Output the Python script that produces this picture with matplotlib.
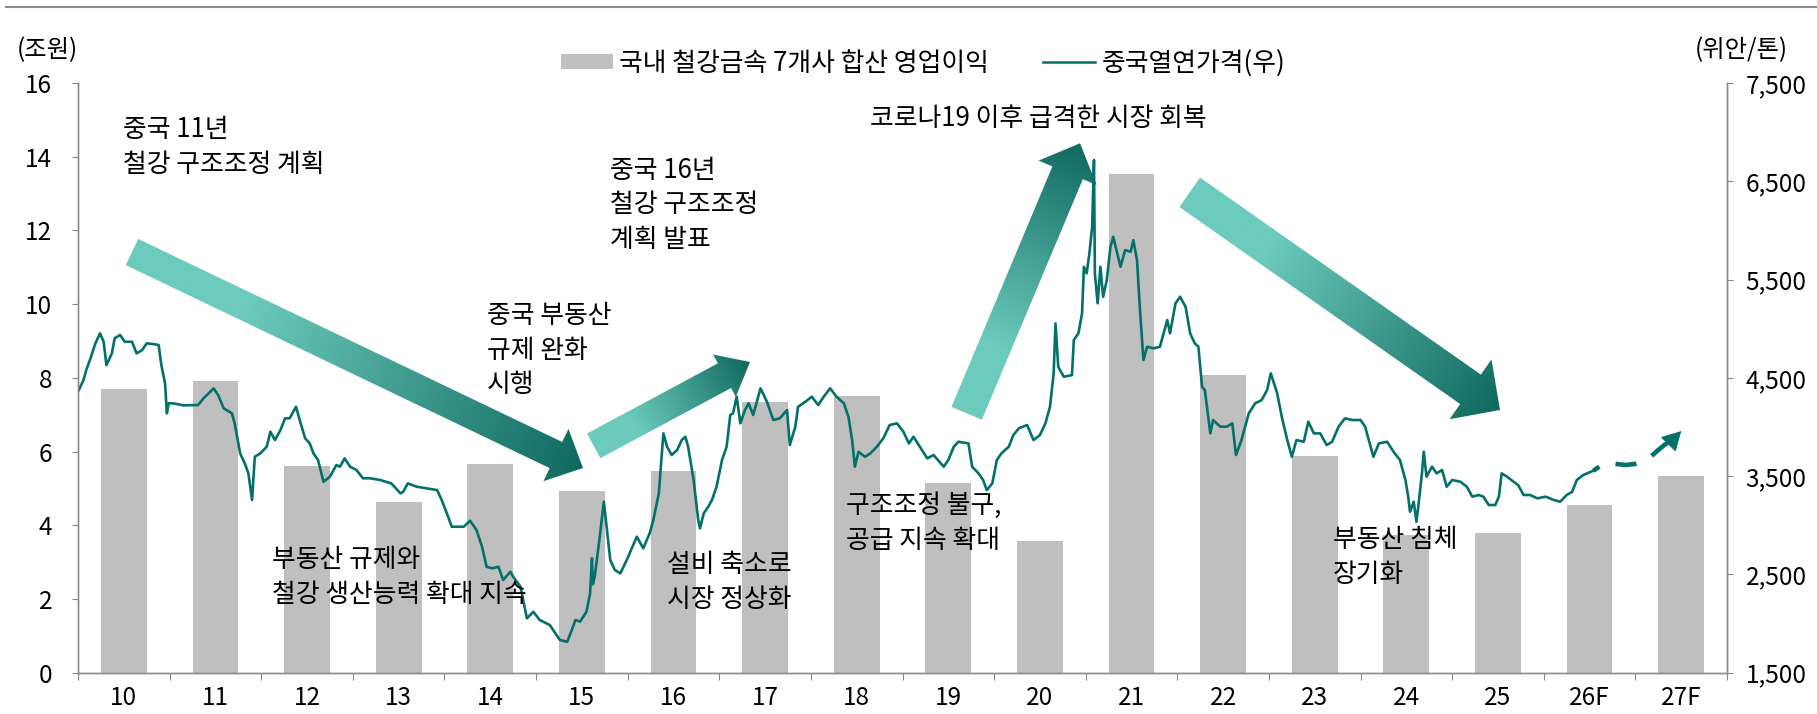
import numpy as np
import matplotlib
matplotlib.use('Agg')
import matplotlib.pyplot as plt
from matplotlib.patches import Polygon, Patch
from matplotlib.lines import Line2D
from matplotlib.colors import LinearSegmentedColormap

plt.rcParams['font.family'] = ['Noto Sans CJK KR', 'DejaVu Sans']

W, H = 1817, 714

# --- data -------------------------------------------------------------
years = ['10', '11', '12', '13', '14', '15', '16', '17', '18', '19',
         '20', '21', '22', '23', '24', '25', '26F', '27F']
op_profit = [7.70, 7.92, 5.60, 4.63, 5.66, 4.92, 5.46, 7.34, 7.52, 5.15,
             3.57, 13.54, 8.07, 5.87, 3.73, 3.78, 4.54, 5.34]   # 조원

# 중국 열연가격 (위안/톤), decimal year
hrc_t = [2010.00, 2010.06, 2010.09, 2010.13, 2010.19, 2010.24, 2010.28, 2010.31, 2010.37, 2010.40,
         2010.46, 2010.51, 2010.59, 2010.64, 2010.70, 2010.75, 2010.84, 2010.88, 2010.91, 2010.95,
         2010.97, 2010.99, 2011.04, 2011.15, 2011.26, 2011.31, 2011.37, 2011.48, 2011.53, 2011.59,
         2011.68, 2011.71, 2011.77, 2011.82, 2011.86, 2011.90, 2011.93, 2011.99, 2012.06, 2012.10,
         2012.15, 2012.21, 2012.26, 2012.31, 2012.38, 2012.42, 2012.48, 2012.53, 2012.57, 2012.62,
         2012.68, 2012.75, 2012.82, 2012.86, 2012.91, 2012.97, 2013.04, 2013.11, 2013.19, 2013.30,
         2013.42, 2013.52, 2013.55, 2013.60, 2013.70, 2013.81, 2013.92, 2013.97, 2014.04, 2014.08,
         2014.15, 2014.21, 2014.28, 2014.35, 2014.41, 2014.46, 2014.52, 2014.59, 2014.64, 2014.72,
         2014.75, 2014.83, 2014.90, 2014.97, 2015.04, 2015.15, 2015.26, 2015.34, 2015.39, 2015.43,
         2015.48, 2015.55, 2015.59, 2015.61, 2015.62, 2015.64, 2015.70, 2015.74, 2015.77, 2015.81,
         2015.86, 2015.92, 2015.99, 2016.10, 2016.17, 2016.24, 2016.28, 2016.34, 2016.39, 2016.43,
         2016.48, 2016.54, 2016.59, 2016.63, 2016.66, 2016.72, 2016.77, 2016.79, 2016.83, 2016.88,
         2016.92, 2016.97, 2017.03, 2017.08, 2017.12, 2017.15, 2017.19, 2017.23, 2017.28, 2017.32,
         2017.37, 2017.45, 2017.52, 2017.59, 2017.66, 2017.74, 2017.77, 2017.83, 2017.86, 2017.94,
         2018.01, 2018.08, 2018.14, 2018.21, 2018.28, 2018.36, 2018.41, 2018.45, 2018.48, 2018.52,
         2018.59, 2018.65, 2018.72, 2018.79, 2018.86, 2018.94, 2019.01, 2019.07, 2019.12, 2019.19,
         2019.27, 2019.34, 2019.37, 2019.45, 2019.50, 2019.56, 2019.61, 2019.72, 2019.76, 2019.83,
         2019.88, 2019.92, 2019.98, 2020.03, 2020.08, 2020.16, 2020.21, 2020.27, 2020.36, 2020.43,
         2020.50, 2020.56, 2020.61, 2020.65, 2020.67, 2020.70, 2020.76, 2020.85, 2020.87, 2020.92,
         2020.96, 2020.98, 2021.01, 2021.04, 2021.07, 2021.09, 2021.10, 2021.13, 2021.16, 2021.19,
         2021.23, 2021.27, 2021.30, 2021.38, 2021.43, 2021.49, 2021.52, 2021.56, 2021.59, 2021.63,
         2021.67, 2021.74, 2021.81, 2021.89, 2021.92, 2021.98, 2022.03, 2022.09, 2022.14, 2022.19,
         2022.23, 2022.27, 2022.30, 2022.36, 2022.39, 2022.47, 2022.54, 2022.60, 2022.64, 2022.70,
         2022.78, 2022.85, 2022.92, 2022.98, 2023.02, 2023.09, 2023.14, 2023.20, 2023.25, 2023.30,
         2023.38, 2023.43, 2023.49, 2023.56, 2023.63, 2023.69, 2023.76, 2023.83, 2023.91, 2024.00,
         2024.05, 2024.09, 2024.14, 2024.20, 2024.29, 2024.36, 2024.43, 2024.49, 2024.52, 2024.54,
         2024.58, 2024.61, 2024.63, 2024.67, 2024.69, 2024.72, 2024.78, 2024.83, 2024.89, 2024.94,
         2025.00, 2025.09, 2025.16, 2025.22, 2025.29, 2025.34, 2025.40, 2025.47, 2025.51, 2025.54,
         2025.60, 2025.67, 2025.72, 2025.78, 2025.85, 2025.93, 2026.02, 2026.11, 2026.18, 2026.25,
         2026.31, 2026.36, 2026.43, 2026.54]
hrc_price = [4359, 4478, 4580, 4681, 4851, 4953, 4867, 4630, 4749, 4902,
             4936, 4867, 4867, 4749, 4783, 4851, 4841, 4834, 4630, 4444,
             4139, 4241, 4241, 4220, 4223, 4223, 4291, 4393, 4325, 4190,
             4139, 4037, 3732, 3630, 3528, 3257, 3697, 3732, 3799, 3952,
             3867, 3969, 4088, 4088, 4206, 4071, 3884, 3833, 3732, 3664,
             3443, 3494, 3613, 3596, 3681, 3596, 3562, 3478, 3478, 3460,
             3426, 3325, 3341, 3426, 3392, 3375, 3358, 3257, 3087, 2985,
             2985, 2985, 3046, 2952, 2782, 2578, 2562, 2578, 2443, 2527,
             2477, 2375, 2053, 2120, 2036, 1985, 1833, 1815, 1934, 2036,
             2019, 2120, 2308, 2664, 2400, 2477, 2918, 3240, 2985, 2647,
             2545, 2511, 2647, 2884, 2766, 2918, 3053, 3325, 3935, 3799,
             3715, 3766, 3867, 3901, 3799, 3460, 3053, 2969, 3121, 3189,
             3257, 3392, 3664, 3799, 4122, 4139, 4308, 4037, 4172, 4241,
             4122, 4393, 4257, 4071, 4088, 4172, 3816, 4003, 4206, 4257,
             4308, 4223, 4308, 4393, 4308, 4241, 4104, 3867, 3596, 3748,
             3697, 3732, 3799, 3884, 4020, 4037, 3952, 3833, 3901, 3799,
             3681, 3715, 3681, 3596, 3664, 3799, 3850, 3833, 3596, 3528,
             3460, 3358, 3426, 3664, 3732, 3799, 3918, 3986, 4020, 3867,
             3918, 4037, 4206, 4546, 5054, 4613, 4511, 4528, 4885, 4953,
             5156, 5630, 5563, 5766, 6037, 6716, 5563, 5258, 5630, 5325,
             5495, 5834, 5935, 5630, 5800, 5783, 5901, 5698, 5223, 4681,
             4817, 4800, 4817, 5088, 4953, 5258, 5325, 5223, 4953, 4851,
             4817, 4410, 4376, 3935, 4071, 4003, 4003, 4037, 3715, 3867,
             4139, 4241, 4274, 4376, 4546, 4342, 4104, 3867, 3697, 3867,
             3850, 4054, 3935, 3935, 3816, 3850, 4003, 4088, 4071, 4071,
             4003, 3867, 3697, 3833, 3850, 3748, 3664, 3460, 3291, 3138,
             3240, 3036, 3189, 3528, 3748, 3494, 3596, 3528, 3562, 3392,
             3460, 3443, 3392, 3291, 3308, 3291, 3206, 3206, 3291, 3528,
             3494, 3443, 3409, 3308, 3308, 3274, 3291, 3257, 3240, 3308,
             3341, 3460, 3511, 3555]

# 전망 (점선 화살표)
fcst_t = [2026.54, 2026.67, 2026.78, 2026.89, 2027.00, 2027.09, 2027.17, 2027.25, 2027.32, 2027.41]
fcst_price = [3555, 3636, 3625, 3613, 3625, 3647, 3700, 3766, 3820, 3872]
fcst_tip = (2027.50, 3958)

light, dark = '#6ccbbc', '#10695f'
line_c = '#03706a'

# --- figure -----------------------------------------------------------
fig = plt.figure(figsize=(W / 100, H / 100), dpi=100)
ax = fig.add_axes([78 / W, 41.3 / H, 1649 / W, 589.7 / H])
ax2 = ax.twinx()
ov = fig.add_axes([0, 0, 1, 1])
ov.axis('off')
ov.patch.set_visible(False)
ax.set_zorder(0)
ov.set_zorder(1)
ax2.set_zorder(2)

x = np.arange(len(years))
ax.bar(x, op_profit, width=0.5, color='#bfbfbf', zorder=2)
ax.set_xlim(-0.5, len(years) - 0.5)
ax.set_ylim(0, 16)
ax.set_yticks(np.arange(0, 17, 2))

ax.set_xticks(np.arange(-0.5, len(years), 1))
ax.set_xticklabels([])
ax.set_xticks(x, minor=True)
ax.set_xticklabels(years, minor=True)
ax.tick_params(axis='x', which='major', length=5, color='#888888')
ax.tick_params(axis='x', which='minor', length=0, pad=9, labelsize=17.5)
ax.tick_params(axis='y', length=4.5, color='#888888', pad=14, labelsize=17.5)

t = np.array(hrc_t) - 2010.5
ax2.plot(t, hrc_price, color=line_c, lw=1.9, solid_joinstyle='round')
ft = np.array(fcst_t) - 2010.5
ax2.plot(ft, fcst_price, color=line_c, lw=3.3, linestyle=(3.0, (4.6, 3.8)),
         dash_capstyle='butt')
ax2.annotate('', xy=(fcst_tip[0] - 2010.5, fcst_tip[1]), xytext=(ft[-1], fcst_price[-1]),
             arrowprops=dict(arrowstyle='-|>,head_length=0.45,head_width=0.25',
                             mutation_scale=28, color=line_c, lw=0.5,
                             shrinkA=0, shrinkB=0))
ax2.set_ylim(1500, 7500)
ax2.set_yticks(np.arange(1500, 7501, 1000))
ax2.set_yticklabels([f'{v:,}' for v in range(1500, 7501, 1000)])
ax2.tick_params(axis='y', length=4.5, color='#888888', pad=9, labelsize=17.5)

for a in (ax, ax2):
    a.spines['top'].set_visible(False)
    for s in ('left', 'right', 'bottom'):
        a.spines[s].set_color('#8c8c8c')
        a.spines[s].set_linewidth(1.0)


# --- gradient block arrows (pixel coordinates, origin top-left) ---------
def block_arrow(tail, tip, shaft_w, head_w, head_l):
    tail = np.array(tail, float)
    tip = np.array(tip, float)
    d = tip - tail
    L = np.hypot(*d)
    u = d / L
    n = np.array([-u[1], u[0]])
    base = tip - u * head_l
    pts = np.array([tail + n * shaft_w / 2, base + n * shaft_w / 2, base + n * head_w / 2, tip,
                    base - n * head_w / 2, base - n * shaft_w / 2, tail - n * shaft_w / 2])
    poly = Polygon(pts, closed=True, facecolor='none', edgecolor='none')
    ov.add_patch(poly)
    x0, x1 = pts[:, 0].min(), pts[:, 0].max()
    y0, y1 = pts[:, 1].min(), pts[:, 1].max()
    gx, gy = np.meshgrid(np.linspace(x0, x1, 300), np.linspace(y0, y1, 300))
    s = np.clip(((gx - tail[0]) * u[0] + (gy - tail[1]) * u[1]) / L, 0, 1)
    cmap = LinearSegmentedColormap.from_list('g', [(0, light), (0.25, light), (1, dark)])
    im = ov.imshow(s, extent=[x0, x1, y0, y1], origin='lower', cmap=cmap,
                   vmin=0, vmax=1, aspect='auto', interpolation='bilinear')
    im.set_clip_path(poly)


block_arrow((132, 252), (583, 468), 29, 58, 30)
block_arrow((593.7, 445.8), (750, 362), 28, 48, 29)
block_arrow((966.7, 413.3), (1080, 143.3), 33, 63, 32)
block_arrow((1189.7, 192.3), (1500, 410), 36, 73, 36)
ov.set_xlim(0, W)
ov.set_ylim(H, 0)


# --- texts ----------------------------------------------------------------
def ftext(px, py, s, **kw):
    fig.text(px / W, 1 - py / H, s, fontsize=18.6, ha='left', va='center',
             linespacing=1.36, zorder=5, **kw)


ftext(123, 147, '중국 11년\n철강 구조조정 계획')
ftext(610, 205, '중국 16년\n철강 구조조정\n계획 발표')
ftext(487, 350, '중국 부동산\n규제 완화\n시행')
ftext(870, 118, '코로나19 이후 급격한 시장 회복')
ftext(272, 577, '부동산 규제와\n철강 생산능력 확대 지속')
ftext(667, 582, '설비 축소로\n시장 정상화')
ftext(846, 523, '구조조정 불구,\n공급 지속 확대')
ftext(1333, 557, '부동산 침체\n장기화')

fig.text(47 / W, 1 - 50 / H, '(조원)', fontsize=17.5, ha='center', va='center')
fig.text(1741 / W, 1 - 50 / H, '(위안/톤)', fontsize=17.5, ha='center', va='center')

fig.add_artist(Line2D([6 / W, 1], [1 - 7 / H, 1 - 7 / H], color='#8c8c8c', lw=1.5))

handles = [Patch(facecolor='#bfbfbf', edgecolor='none'),
           Line2D([], [], color=line_c, lw=1.8)]
fig.legend(handles, ['국내 철강금속 7개사 합산 영업이익', '중국열연가격(우)'],
           loc='center', bbox_to_anchor=(923 / W, 1 - 63 / H), ncol=2, frameon=False,
           fontsize=18.6, handlelength=2.0, handleheight=0.5, handletextpad=0.25,
           columnspacing=2.1)

fig.savefig('out.png', dpi=100)
